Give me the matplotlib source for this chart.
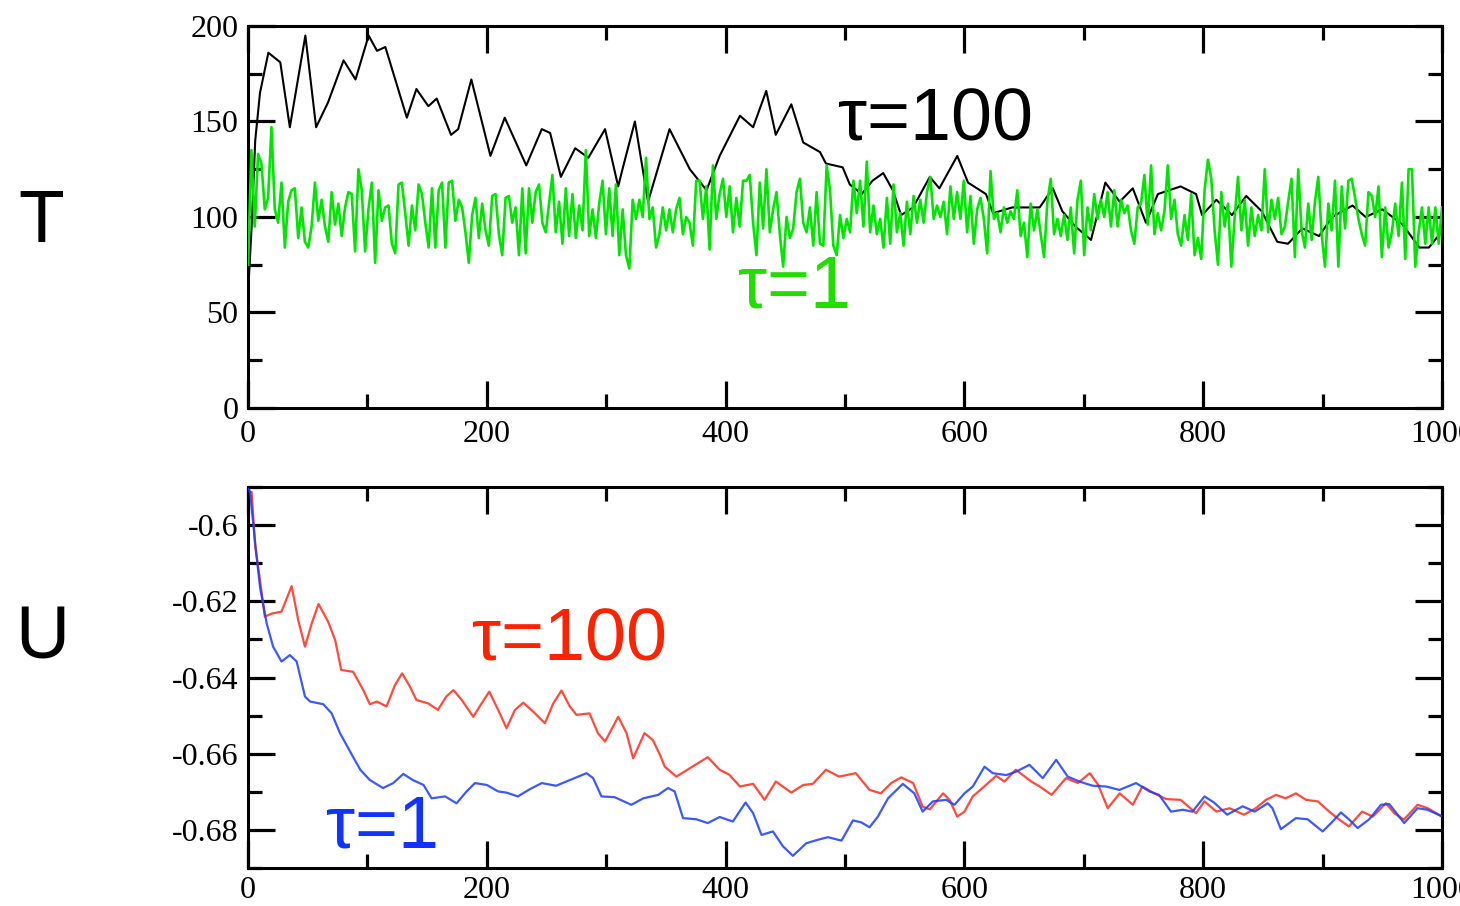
import numpy as np
import matplotlib
matplotlib.use("Agg")
import matplotlib.pyplot as plt
from matplotlib.ticker import MultipleLocator, FuncFormatter

plt.rcParams["font.family"] = ["Liberation Serif", "DejaVu Serif"]
plt.rcParams["axes.unicode_minus"] = False

# ---------------- temperature, tau = 100 (slow thermostat) ----------------
temp_slow_t = [
    0, 3, 6, 10, 17, 27, 35, 48, 57, 67,
    80, 90, 101, 108, 115, 133, 141, 151, 158, 170,
    176, 187, 203, 215, 233, 246, 253, 262, 274, 285,
    299, 310, 314, 324, 335, 353, 370, 384, 395, 412,
    423, 434, 442, 455, 465, 479, 484, 498, 504, 514,
    523, 532, 540, 547, 557, 571, 579, 594, 603, 618,
    624, 640, 663, 674, 682, 693, 706, 718, 730, 741,
    752, 762, 781, 794, 799, 811, 824, 836, 849, 862,
    871, 883, 897, 908, 925, 936, 950, 967, 981, 989, 998]
temp_slow = [
    60, 95, 140, 165, 186, 181, 147, 195, 147, 160,
    182, 172, 195, 187, 189, 152, 167, 158, 162, 143,
    146, 172, 132, 152, 127, 146, 144, 121, 136, 131,
    146, 116, 126, 150, 108, 146, 125, 114, 132, 153,
    147, 166, 143, 159, 139, 134, 128, 126, 117, 112,
    119, 123, 114, 101, 105, 121, 115, 132, 118, 112,
    102, 105, 105, 115, 103, 95, 88, 118, 108, 115,
    97, 112, 116, 112, 101, 109, 101, 111, 103, 87,
    86, 94, 90, 100, 106, 100, 104, 96, 84, 84, 91]

# ---------------- temperature, tau = 1 (fast thermostat) ----------------
temp_fast = [
    75, 135, 95, 133, 128, 104, 110, 147, 104, 97, 118, 84, 108, 114, 115, 89,
    105, 87, 84, 95, 118, 98, 109, 95, 87, 113, 96, 107, 90, 105, 113, 112, 82,
    125, 114, 82, 104, 118, 76, 114, 98, 105, 106, 86, 81, 117, 118, 102, 85,
    106, 93, 117, 112, 97, 84, 115, 84, 114, 118, 84, 118, 119, 98, 109, 105,
    92, 76, 101, 110, 89, 107, 93, 85, 111, 112, 91, 80, 110, 111, 97, 105, 80,
    115,
    81, 115, 97, 113, 117, 97, 92, 107, 122, 92, 108, 86, 115, 90, 112, 89, 106,
    93, 135, 90, 104, 89, 107, 119, 91, 115, 90, 117, 80, 104, 80, 73, 109, 99,
    109, 100, 131, 99, 105, 84, 91, 105, 93, 104, 92, 104, 110, 91, 100, 97, 85,
    119, 119, 99, 116, 83, 127, 99, 112, 120, 100, 116, 92, 110, 95, 119, 119,
    122, 97, 80, 118, 94, 125, 92, 104, 113, 91, 74, 100, 89, 94, 113, 120, 97,
    92, 105, 85, 113, 86, 85, 127, 114,
    85, 80, 101, 89, 99, 92, 119, 102, 119, 95, 129, 92, 106, 91, 99, 84, 110,
    86, 117, 92, 102, 85, 108, 91, 111, 97, 109, 97, 113, 121, 99, 106, 100,
    108, 91, 116, 99, 113, 99, 119, 92, 111, 86, 104, 110, 99, 81, 124, 99, 102,
    92, 105, 97, 103, 99, 114, 90, 97, 79, 107, 93, 104, 91, 79, 108, 120, 91,
    99, 90, 101, 88, 105, 81, 109, 119, 80, 105, 93, 112, 99, 109, 100, 113, 95,
    114, 95, 109, 102, 106, 93, 86, 105,
    107, 122, 96, 127, 91, 102, 93, 103, 127, 99, 109, 91, 85, 101, 88, 112, 80,
    89, 78, 114, 130, 120, 93, 75, 113, 95, 107, 74, 100, 121, 93, 109, 85, 105,
    90, 101, 93, 125, 92, 109, 99, 110, 91, 95, 108, 120, 79, 125, 93, 84, 107,
    88, 108, 121, 91, 74, 107, 93, 119, 74, 116, 94, 119, 120, 110, 99, 91, 85,
    113, 111, 100, 116, 79, 105, 84, 92, 107, 90, 118, 78, 125, 125, 74, 92,
    105, 86, 105, 86, 105, 86, 105]
temp_fast_t = np.linspace(0, 1000, len(temp_fast))

# ---------------- potential energy, tau = 100 ----------------
u_slow_t = [
    0, 3, 6, 10, 14, 20, 28, 36.5, 42, 47.7,
    53.3, 59, 67, 73, 78, 88, 96.5, 102, 108, 116,
    123, 129, 135.6, 141, 151, 159, 166, 172, 179, 188.6,
    195.6, 202, 209.5, 216.5, 223.5, 230.5, 239, 248.6, 255.6, 262.5,
    269.5, 275, 286, 293, 299, 310, 317, 322.5, 332, 339,
    345, 349, 358.7, 370, 385, 395, 403, 412, 423, 432.6,
    442, 455, 465, 473, 484, 495, 509, 520.5, 530, 538.6,
    547, 557, 565, 571, 582, 587.5, 594, 600, 607, 618,
    626.5, 633.5, 643, 656, 663, 673, 685, 695, 705, 712,
    720, 730, 741, 749, 759, 769, 781, 794, 801, 811,
    822, 834, 844, 852.5, 861, 869, 877.6, 886, 896, 905.5,
    914, 922, 933, 942, 953, 960, 968, 979.5, 988, 999]
u_slow = [
    -0.591, -0.5913, -0.6057, -0.6144, -0.624, -0.6232, -0.6227, -0.616, -0.6249, -0.6319,
    -0.6258, -0.6207, -0.6253, -0.6302, -0.638, -0.6385, -0.6433, -0.647, -0.6463, -0.6476,
    -0.642, -0.6389, -0.6424, -0.6459, -0.6468, -0.6485, -0.645, -0.6433, -0.6459, -0.6503,
    -0.6468, -0.6437, -0.6485, -0.6533, -0.6485, -0.6466, -0.649, -0.652, -0.6468, -0.6434,
    -0.6476, -0.6498, -0.6494, -0.6546, -0.6568, -0.6503, -0.6546, -0.6612, -0.6546, -0.6564,
    -0.6603, -0.6634, -0.666, -0.6638, -0.6609, -0.6642, -0.6655, -0.6686, -0.6679, -0.6721,
    -0.6673, -0.6702, -0.6682, -0.6679, -0.6642, -0.666, -0.6651, -0.6695, -0.6704, -0.6677,
    -0.6662, -0.6677, -0.6739, -0.6746, -0.6704, -0.6721, -0.6765, -0.6752, -0.6712, -0.6682,
    -0.6658, -0.6673, -0.6642, -0.6673, -0.6686, -0.6708, -0.6664, -0.6677, -0.6651, -0.6682,
    -0.6743, -0.6704, -0.6734, -0.6686, -0.6704, -0.6719, -0.6721, -0.6756, -0.6725, -0.6752,
    -0.6743, -0.676, -0.6743, -0.6721, -0.6708, -0.6717, -0.6704, -0.6721, -0.6725, -0.6752,
    -0.6773, -0.6791, -0.6752, -0.6765, -0.673, -0.6756, -0.6773, -0.6734, -0.6743, -0.6763]

# ---------------- potential energy, tau = 1 ----------------
u_fast_t = [
    0, 1.7, 6, 10, 15.6, 21, 28, 35, 40.7, 47.7,
    52, 63, 70, 77, 87, 94, 102, 113, 121.6, 130,
    138, 147, 153.7, 165, 174.6, 183, 190, 200, 209.5, 216.5,
    226, 236, 246, 258, 269.5, 283.5, 289, 296, 307, 321,
    331, 343.5, 351.7, 357.3, 364.3, 375.4, 385, 395, 406, 416.7,
    423, 430, 439.6, 448, 456.3, 467.5, 477, 485.6, 497, 506.6,
    513.5, 520.5, 527.5, 536, 548.4, 558, 565, 573.5, 584.7, 591.7,
    600, 607, 616.8, 623.7, 635, 643.3, 654.4, 665.6, 676.8, 686.5,
    696.3, 707.4, 718.6, 729.8, 743.7, 755, 763, 773, 783, 791,
    801, 809, 820, 833, 843, 854, 858, 865, 877.6, 887.4,
    900, 908.3, 915.3, 922.3, 929.3, 939, 948.8, 955.8, 968.3, 979.5,
    987.8, 999]
u_fast = [
    -0.5905, -0.5913, -0.6048, -0.6162, -0.6258, -0.6319, -0.6358, -0.6341, -0.6358, -0.645,
    -0.6463, -0.647, -0.6494, -0.6546, -0.6603, -0.6642, -0.6669, -0.669, -0.6677, -0.6653,
    -0.6669, -0.6682, -0.6717, -0.6712, -0.673, -0.6699, -0.6677, -0.6682, -0.6699, -0.6702,
    -0.6712, -0.6693, -0.6677, -0.6684, -0.6669, -0.6651, -0.6664, -0.6712, -0.6714, -0.6734,
    -0.6717, -0.6708, -0.669, -0.6699, -0.6769, -0.6772, -0.6782, -0.6766, -0.6778, -0.6728,
    -0.6756, -0.6813, -0.6804, -0.6843, -0.6868, -0.6835, -0.6826, -0.6819, -0.6828, -0.6775,
    -0.678, -0.6793, -0.6765, -0.6717, -0.6679, -0.6704, -0.6752, -0.6725, -0.6721, -0.6734,
    -0.6704, -0.6686, -0.6634, -0.6651, -0.6656, -0.6647, -0.6629, -0.6664, -0.6616, -0.666,
    -0.6673, -0.6684, -0.6686, -0.6695, -0.6677, -0.6699, -0.6708, -0.6752, -0.6747, -0.6752,
    -0.6712, -0.6728, -0.676, -0.6738, -0.6752, -0.673, -0.6743, -0.6798, -0.6769, -0.6772,
    -0.6804, -0.6778, -0.6754, -0.6773, -0.6795, -0.6772, -0.6734, -0.6732, -0.6782, -0.6743,
    -0.6747, -0.6763]

x_range = (0, 1000)
temp_range = (0, 200)
u_range = (-0.69, -0.59)

fig = plt.figure(figsize=(14.6, 9.06), dpi=100)
ax_t = fig.add_axes([0.1699, 0.5497, 0.8178, 0.4216])
ax_u = fig.add_axes([0.1699, 0.0419, 0.8178, 0.4205])


def style_axes(ax, ymajor, yminor, yfmt, xpad):
    for sp in ax.spines.values():
        sp.set_linewidth(2.2)
    ax.set_xlim(*x_range)
    ax.xaxis.set_major_locator(MultipleLocator(200))
    ax.xaxis.set_minor_locator(MultipleLocator(100))
    ax.yaxis.set_major_locator(MultipleLocator(ymajor))
    ax.yaxis.set_minor_locator(MultipleLocator(yminor))
    ax.xaxis.set_major_formatter(FuncFormatter(lambda v, p: "%g" % round(v, 3)))
    ax.yaxis.set_major_formatter(FuncFormatter(yfmt))
    ax.tick_params(which="both", direction="in", top=True, right=True,
                   width=2.3, labelsize=23, colors="black")
    ax.tick_params(which="major", length=19.5)
    ax.tick_params(which="minor", length=10)
    ax.tick_params(axis="x", pad=xpad)
    ax.tick_params(axis="y", pad=7)


# Temperature panel
ax_t.plot(temp_slow_t, temp_slow, color="black", lw=1.5, zorder=2)
ax_t.plot(temp_fast_t, temp_fast, color="#00e600", lw=1.9, zorder=3)
ax_t.set_ylim(*temp_range)
style_axes(ax_t, 50, 25, lambda v, p: "%g" % round(v, 3), 9)
ax_t.text(494, 140, "τ=100", fontsize=53, family="Liberation Sans",
          color="black", ha="left", va="baseline", zorder=5)
ax_t.text(410, 52.4, "τ=1", fontsize=53, family="Liberation Sans",
          color="#22dd00", ha="left", va="baseline", zorder=5)

# Potential energy panel
ax_u.plot(u_fast_t, u_fast, color="#1a3cff", lw=1.6, alpha=0.85, zorder=3)
ax_u.plot(u_slow_t, u_slow, color="#ff2a1a", lw=1.6, alpha=0.85, zorder=2)
ax_u.set_ylim(*u_range)
style_axes(ax_u, 0.02, 0.01, lambda v, p: "%g" % round(v, 2), 6)
ax_u.text(187.4, -0.6354, "τ=100", fontsize=53, family="Liberation Sans",
          color="#ff2200", ha="left", va="baseline", zorder=5)
ax_u.text(65.3, -0.6846, "τ=1", fontsize=53, family="Liberation Sans",
          color="#1133ff", ha="left", va="baseline", zorder=5)

# Panel quantity labels
fig.text(0.0123, 0.733, "T", fontsize=54, family="Liberation Sans",
         color="black", ha="left", va="baseline")
fig.text(0.0103, 0.2737, "U", fontsize=54, family="Liberation Sans",
         color="black", ha="left", va="baseline")

fig.savefig("out.png", dpi=100, facecolor="white")
